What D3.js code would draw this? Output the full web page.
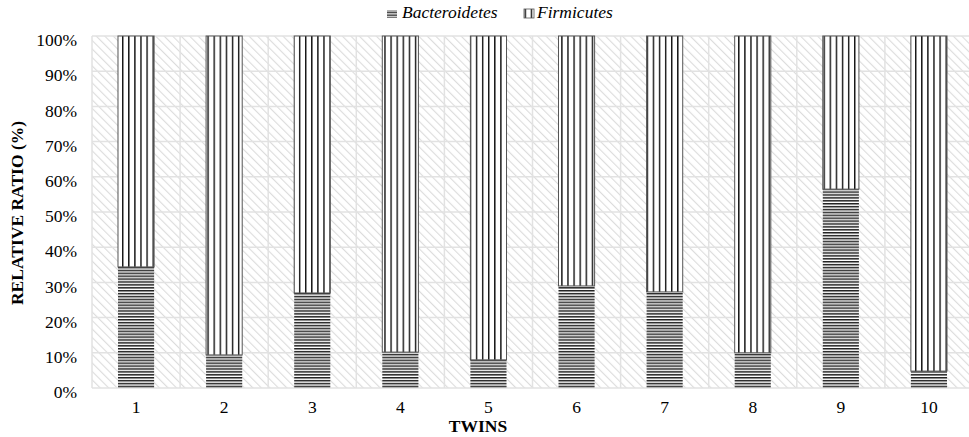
<!DOCTYPE html>
<html><head><meta charset="utf-8">
<script src="https://cdn.jsdelivr.net/npm/d3@7"></script>
<style>body{margin:0;background:#fff}svg{display:block}</style>
</head><body>
<script>
const categories = ["1","2","3","4","5","6","7","8","9","10"];
const bacteroidetes = [34.4, 9.4, 27.0, 10.2, 8.0, 29.0, 27.3, 10.0, 56.5, 4.8];
const firmicutes = [65.6, 90.6, 73.0, 89.8, 92.0, 71.0, 72.7, 90.0, 43.5, 95.2];
const yTicks = [0,10,20,30,40,50,60,70,80,90,100];
const seriesNames = ["Bacteroidetes","Firmicutes"];

const FONT = "'Liberation Serif', 'Times New Roman', Times, serif";
const W = 969, H = 437;
const svg = d3.select("body").append("svg").attr("width", W).attr("height", H);
const defs = svg.append("defs");

// background diagonal hatch
const bg = defs.append("pattern").attr("id","bgHatch").attr("patternUnits","userSpaceOnUse")
  .attr("width",6).attr("height",6).attr("patternTransform","rotate(-45)");
bg.append("rect").attr("width",6).attr("height",6).attr("fill","#fff");
bg.append("rect").attr("x",0).attr("width",1.1).attr("height",6).attr("fill","#dcdcdc");

// horizontal lines pattern
const hp = defs.append("pattern").attr("id","hLines").attr("patternUnits","userSpaceOnUse")
  .attr("width",8).attr("height",2.9);
hp.append("rect").attr("width",8).attr("height",2.9).attr("fill","#fff");
hp.append("rect").attr("y",0).attr("width",8).attr("height",1.5).attr("fill","#222");

// vertical lines pattern
const vp = defs.append("pattern").attr("id","vLines").attr("patternUnits","userSpaceOnUse")
  .attr("width",6.1).attr("height",8);
vp.append("rect").attr("width",6.1).attr("height",8).attr("fill","#fff");
vp.append("rect").attr("x",0).attr("width",1.4).attr("height",8).attr("fill","#111");

const x0 = 92, x1 = 973, yTop = 36, yBot = 388;
const x = d3.scaleBand().domain(categories).range([x0, x1]).paddingInner(0.59).paddingOuter(0.295);
const y = d3.scaleLinear().domain([0,100]).range([yBot, yTop]);

svg.append("rect").attr("x",x0).attr("y",yTop).attr("width",x1-x0).attr("height",yBot-yTop).attr("fill","url(#bgHatch)");

// grid lines
const step = (x1-x0)/categories.length;
svg.append("g").selectAll("line").data(yTicks).join("line")
  .attr("x1",x0).attr("x2",x1).attr("y1",d=>y(d)).attr("y2",d=>y(d))
  .attr("stroke","#e2e2e2").attr("stroke-width",1.5);
svg.append("g").selectAll("line").data(d3.range(categories.length+1)).join("line")
  .attr("x1",i=>x0+i*step).attr("x2",i=>x0+i*step).attr("y1",yTop).attr("y2",yBot)
  .attr("stroke","#e2e2e2").attr("stroke-width",1.5);

// bars
const stackData = categories.map((c,i)=>({cat:c, Bacteroidetes:bacteroidetes[i], Firmicutes:firmicutes[i]}));
const stacked = d3.stack().keys(seriesNames)(stackData);
const fills = {Bacteroidetes:"url(#hLines)", Firmicutes:"url(#vLines)"};
stacked.forEach(s=>{
  svg.append("g").selectAll("rect").data(s).join("rect")
    .attr("x",d=>x(d.data.cat)).attr("width",x.bandwidth())
    .attr("y",d=>y(d[1])).attr("height",d=>y(d[0])-y(d[1]))
    .attr("fill",fills[s.key])
    .attr("stroke", s.key==="Firmicutes" ? "#555" : "none").attr("stroke-width",1);
});

// y axis labels
const yAxis = d3.axisLeft(y).tickValues(yTicks).tickFormat(d=>d+"%").tickSize(0).tickPadding(15);
const ya = svg.append("g").attr("transform",`translate(${x0},0)`).call(yAxis);
ya.select(".domain").remove();
ya.attr("font-family",null).attr("font-size",null);
ya.selectAll("text").style("font-size","17.5px").style("font-family",FONT).attr("fill","#000")
  .attr("y",4).attr("dy","0.32em");

const xAxis = d3.axisBottom(x).tickSize(0);
const xa = svg.append("g").attr("transform",`translate(0,${yBot})`).call(xAxis);
xa.select(".domain").remove();
xa.attr("font-family",null).attr("font-size",null);
xa.selectAll("text").style("font-size","17.5px").style("font-family",FONT).attr("fill","#000")
  .attr("y",25).attr("dy","0");

svg.append("text").attr("x",478).attr("y",432).attr("text-anchor","middle")
  .style("font-family",FONT).style("font-size","17.5px").style("font-weight","bold").text("TWINS");
svg.append("text").attr("transform","translate(23,213) rotate(-90)").attr("text-anchor","middle")
  .style("font-family",FONT).style("font-size","17.5px").style("font-weight","bold").text("RELATIVE RATIO (%)");

// legend
const lg = svg.append("g");
lg.append("rect").attr("x",387).attr("y",10).attr("width",10).attr("height",8).attr("fill","url(#hLines)");
lg.append("text").attr("x",402).attr("y",18).style("font-family",FONT).style("font-size","17.5px").style("font-style","italic").text("Bacteroidetes");
lg.append("rect").attr("x",524).attr("y",9).attr("width",10).attr("height",9).attr("fill","url(#vLines)").attr("stroke","#555").attr("stroke-width",0.8);
lg.append("text").attr("x",537).attr("y",18).style("font-family",FONT).style("font-size","17.5px").style("font-style","italic").text("Firmicutes");
</script>
</body></html>
